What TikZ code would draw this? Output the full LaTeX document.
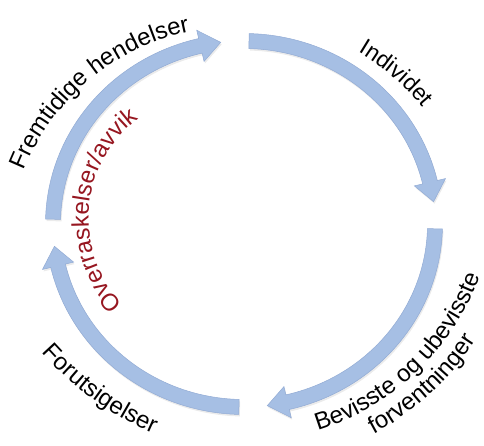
\documentclass[tikz,border=0pt]{standalone}
\usepackage{fontspec}
\setmainfont{Liberation Sans}
\usetikzlibrary{decorations.text,shadows}
\definecolor{arrowfill}{RGB}{166,191,228}
\definecolor{arrowedge}{RGB}{146,171,212}
\definecolor{ovred}{RGB}{150,22,32}
\newcommand\lab{\fontsize{24}{27}\selectfont}
\newcommand\labs{\fontsize{23}{26}\selectfont}
\def\cx{244}
\def\cy{221}
\def\rx{191}
\def\ry{183}
% #1 start angle, #2 tip angle
\newcommand\cyclearrow[2]{%
  \pgfmathsetmacro\hb{#2+6.2}%
  \pgfmathsetmacro\rxo{\rx+7.5}\pgfmathsetmacro\ryo{\ry+7.5}%
  \pgfmathsetmacro\rxi{\rx-7.5}\pgfmathsetmacro\ryi{\ry-7.5}%
  \fill[arrowshape]
    ({\cx+\rxo*cos(#1)},{\cy+\ryo*sin(#1)})
    arc[start angle=#1, end angle=\hb, x radius=\rxo pt, y radius=\ryo pt]
    -- ({\cx+(\rx+16)*cos(\hb)},{\cy+(\ry+16)*sin(\hb)})
    -- ({\cx+\rx*cos(#2)},{\cy+\ry*sin(#2)})
    -- ({\cx+(\rx-16)*cos(\hb)},{\cy+(\ry-16)*sin(\hb)})
    -- ({\cx+\rxi*cos(\hb)},{\cy+\ryi*sin(\hb)})
    arc[start angle=\hb, end angle=#1, x radius=\rxi pt, y radius=\ryi pt]
    -- cycle;}
% #1,#2 centre, #3 baseline radius, #4 from, #5 to, #6 text
\newcommand\arclabel[6]{%
  \path[decorate, decoration={text along path, text align=center, text={#6}}]
    ({#1+#3*cos(#4)},{#2+#3*sin(#4)})
    arc[start angle=#4, end angle=#5, radius=#3 pt];}
\tikzset{arrowshape/.style={fill=arrowfill, draw=arrowedge, line width=0.5pt,
  drop shadow={opacity=0.16, shadow xshift=1pt, shadow yshift=-2pt}}}
\begin{document}
\begin{tikzpicture}[x=1pt,y=1pt]
\useasboundingbox (0,0) rectangle (484,445);
\coordinate (center) at (\cx,\cy);
\cyclearrow{178.5}{97}
\cyclearrow{88.5}{7}
\cyclearrow{-1.5}{-83}
\cyclearrow{-91.5}{-173}
% labels
\arclabel{236}{190}{228}{175}{85}{|\lab|Fremtidige hendelser}
\arclabel{228}{175}{254}{80}{19}{|\labs|Individet}
\arclabel{245}{254}{250}{-91.5}{-1.5}{|\lab|Bevisste og ubevisste}
\arclabel{245}{254}{275}{-87.5}{-7.5}{|\lab|forventninger}
\arclabel{280}{303}{318}{204}{264}{|\lab|Forutsigelser}
\arclabel{212.6}{226.3}{124}{235}{115}{|\lab\color{ovred}|Overraskelser/avvik}
\end{tikzpicture}
\end{document}
